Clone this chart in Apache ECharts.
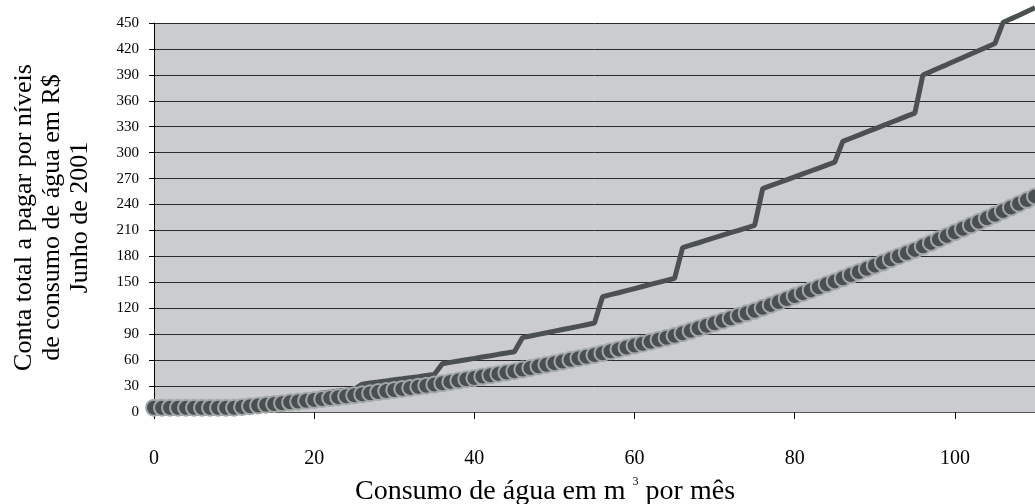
<!DOCTYPE html>
<html>
<head>
<meta charset="utf-8">
<script src="https://cdn.jsdelivr.net/npm/echarts@6/dist/echarts.min.js"></script>
<style>
  html, body { margin: 0; padding: 0; background: #fff; }
  #chart { width: 1035px; height: 504px; }
</style>
</head>
<body>
<div id="chart"></div>
<script>
// consumo em m3 (0..110)
const consumo = [];
for (let i = 0; i <= 110; i++) consumo.push(i);

// conta por níveis (linha em degraus)
const contaNiveis = [
  5.0, 5.0, 5.0, 5.0, 5.0, 5.0, 5.0, 5.0, 5.0, 5.0, 5.0,
  9.4, 10.2, 11.1, 11.9, 12.8,
  15.2, 16.2, 17.1, 18.1, 19.0,
  22.1, 23.1, 24.2, 25.2, 26.3,
  32.2, 33.5, 34.7, 36.0, 37.2, 38.4, 39.7, 40.9, 42.2, 43.4,
  55.8, 57.4, 58.9, 60.5, 62.0, 63.6, 65.1, 66.7, 68.2, 69.8,
  86.0, 87.9, 89.8, 91.6, 93.5, 95.4, 97.2, 99.1, 101.0, 102.9,
  133.3, 135.7, 138.0, 140.4, 142.8, 145.2, 147.6, 149.9, 152.3, 154.7,
  190.1, 193.0, 195.8, 198.7, 201.6, 204.5, 207.4, 210.2, 213.1, 216.0,
  258.4, 261.8, 265.2, 268.6, 272.0, 275.4, 278.8, 282.2, 285.6, 289.0,
  313.0, 316.7, 320.3, 324.0, 327.6, 331.2, 334.9, 338.5, 342.2, 345.8,
  389.8, 393.8, 397.9, 401.9, 406.0, 410.1, 414.1, 418.2, 422.2, 426.3,
  450.5, 454.8, 459.0, 463.3, 467.5
];

// conta progressiva (pontos)
const contaProgressiva = [
  5.0, 5.0, 5.0, 5.0, 5.0, 5.0, 5.0, 5.0, 5.0, 5.0, 5.0,
  5.9, 6.7, 7.6, 8.4, 9.3,
  10.2, 11.2, 12.1, 13.1, 14.0,
  15.1, 16.1, 17.2, 18.2, 19.3,
  20.5, 21.7, 23.0, 24.2, 25.5, 26.7, 27.9, 29.2, 30.4, 31.7,
  33.2, 34.8, 36.3, 37.9, 39.4, 41.0, 42.5, 44.1, 45.6, 47.2,
  49.1, 50.9, 52.8, 54.7, 56.5, 58.4, 60.3, 62.2, 64.0, 65.9,
  68.0, 70.2, 72.4, 74.6, 76.8, 79.0, 81.3, 83.6, 85.9, 88.2,
  91.0, 93.9, 96.8, 99.7, 102.6, 105.5, 108.4, 111.3, 114.2, 117.1,
  120.5, 123.9, 127.3, 130.7, 134.1, 137.5, 140.9, 144.3, 147.7, 151.1,
  154.7, 158.4, 162.0, 165.6, 169.3, 172.9, 176.6, 180.2, 183.9, 187.5,
  191.6, 195.6, 199.7, 203.7, 207.8, 211.9, 215.9, 220.0, 224.0, 228.1,
  232.4, 236.6, 240.9, 245.1, 249.4
];

const serif = '"Liberation Serif", "DejaVu Serif", serif';

let chart = echarts.init(document.getElementById('chart'));

const option = {
  animation: false,
  title: {
    text: '{a|Consumo de água em m }{s|3}{a| por mês}',
    left: 540,
    top: 471,
    textAlign: 'center',
    textStyle: {
      fontWeight: 'normal',
      rich: {
        a: { fontFamily: serif, fontSize: 28, fontWeight: 'normal', color: '#000', lineHeight: 32 },
        s: { fontFamily: serif, fontSize: 12, fontWeight: 'normal', color: '#000', verticalAlign: 'top', lineHeight: 16 }
      }
    }
  },
  grid: {
    left: 154,
    top: 23,
    width: 894,
    height: 389,
    show: true,
    backgroundColor: '#cbccd0',
    borderWidth: 0
  },
  xAxis: {
    type: 'value',
    min: 0,
    max: 110,
    interval: 20,
    axisLine: { show: true, onZero: false, lineStyle: { color: '#555', width: 1 } },
    axisTick: { show: true, inside: false, length: 7, lineStyle: { color: '#000' } },
    axisLabel: {
      showMaxLabel: false,
      margin: 37,
      fontFamily: serif,
      fontSize: 20,
      color: '#000'
    },
    splitLine: { show: false }
  },
  yAxis: {
    type: 'value',
    min: 0,
    max: 450,
    interval: 30,
    name: 'Conta total a pagar por níveis\nde consumo de água em R$\nJunho de 2001',
    nameLocation: 'middle',
    nameRotate: 90,
    nameGap: 60,
    nameTextStyle: { fontFamily: serif, fontSize: 26, lineHeight: 28, color: '#000' },
    axisLine: { show: true, lineStyle: { color: '#000', width: 1 } },
    axisTick: { show: true, inside: false, length: 5, lineStyle: { color: '#000' } },
    axisLabel: { margin: 15, fontFamily: serif, fontSize: 15, color: '#000' },
    splitLine: { show: true, lineStyle: { color: '#2a2a2a', width: 1 } }
  },
  series: [
    {
      name: 'Por níveis',
      type: 'line',
      clip: false,
      showSymbol: false,
      data: consumo.map((x, i) => [x, contaNiveis[i]]),
      lineStyle: { color: '#4b5150', width: 5 },
      z: 2
    },
    {
      name: 'Progressiva',
      type: 'line',
      clip: false,
      symbol: 'circle',
      symbolSize: 16,
      data: consumo.map((x, i) => [x, contaProgressiva[i]]),
      lineStyle: { width: 0, opacity: 0 },
      itemStyle: { color: '#4a4f4f', borderColor: '#a3a8a9', borderWidth: 2 },
      z: 3
    }
  ]
};
chart.setOption(option);
</script>
</body>
</html>
